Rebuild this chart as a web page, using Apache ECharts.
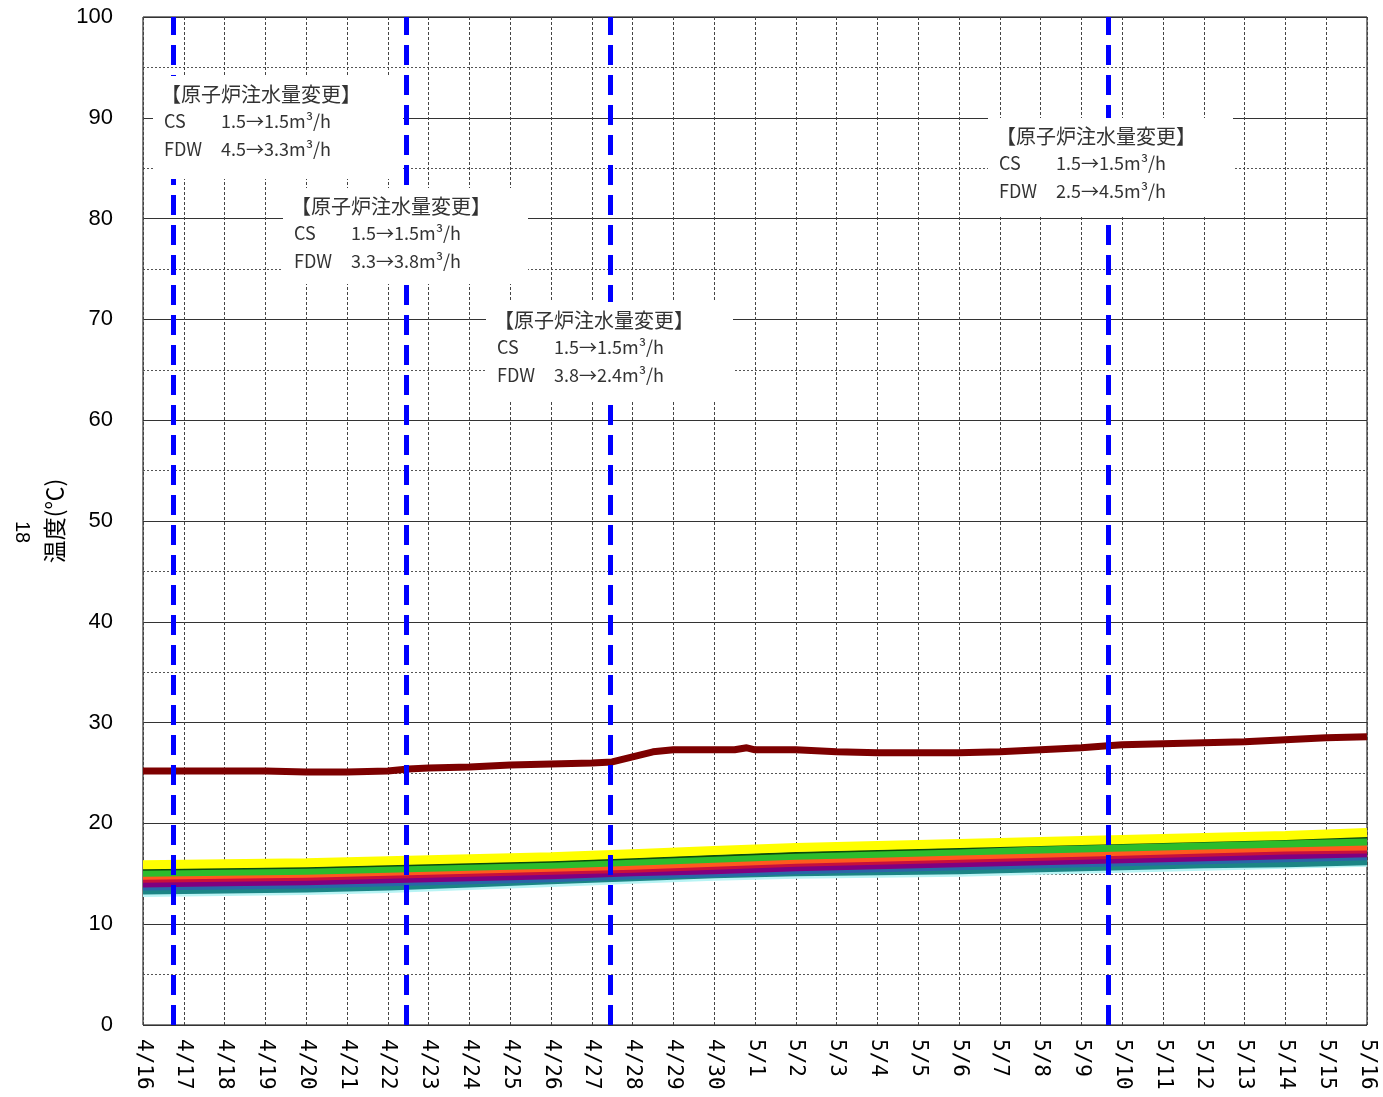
<!DOCTYPE html>
<html>
<head>
<meta charset="utf-8">
<script src="https://cdn.jsdelivr.net/npm/echarts@6/dist/echarts.min.js"></script>
<style>html,body{margin:0;padding:0;background:#fff}#chart{width:1383px;height:1097px}</style>
</head>
<body>
<div id="chart"></div>
<script>
// x tick labels (day 0 = 4/16 ... day 30 = 5/16)
const xTickLabels = ['4/16','4/17','4/18','4/19','4/20','4/21','4/22','4/23','4/24','4/25','4/26','4/27','4/28','4/29','4/30','5/1','5/2','5/3','5/4','5/5','5/6','5/7','5/8','5/9','5/10','5/11','5/12','5/13','5/14','5/15','5/16'];
const yTickValues = [0,10,20,30,40,50,60,70,80,90,100];

// Upper (dark red) series
const upperDays = [0,1,2,3,4,5,6,6.5,7,8,9,10,11,11.5,12,12.5,13,14,14.5,14.8,15,16,17,18,19,20,21,22,23,23.65,24,25,26,27,28,29,30];
const upperTemp = [25.2,25.2,25.2,25.2,25.1,25.1,25.2,25.4,25.5,25.6,25.8,25.9,26.0,26.1,26.6,27.1,27.3,27.3,27.3,27.5,27.3,27.3,27.1,27.0,27.0,27.0,27.1,27.3,27.5,27.7,27.8,27.9,28.0,28.1,28.3,28.5,28.6];

// Lower band series, sampled every 2 days
const lowerDays = [0,2,4,6,8,10,12,14,16,18,20,22,24,26,28,30];
const yellowTemp = [15.9,16.0,16.1,16.3,16.5,16.7,17.0,17.3,17.6,17.8,18.0,18.2,18.4,18.6,18.8,19.1];
const darkGreenTemp = [15.4,15.5,15.6,15.8,16.0,16.2,16.5,16.8,17.1,17.3,17.5,17.8,18.0,18.2,18.4,18.6];
const greenTemp = [15.1,15.2,15.3,15.5,15.7,15.9,16.2,16.5,16.8,17.0,17.2,17.4,17.6,17.8,18.0,18.2];
const orangeTemp = [14.7,14.8,14.9,15.1,15.3,15.5,15.7,16.0,16.3,16.5,16.7,16.9,17.1,17.3,17.5,17.6];
const crimsonTemp = [14.4,14.5,14.6,14.8,15.0,15.2,15.4,15.7,16.0,16.2,16.4,16.6,16.8,17.0,17.2,17.3];
const purpleTemp = [14.0,14.1,14.2,14.4,14.6,14.8,15.1,15.3,15.6,15.8,16.0,16.2,16.4,16.6,16.8,17.0];
const blueTemp = [13.7,13.8,13.9,14.1,14.3,14.5,14.8,15.0,15.3,15.5,15.7,15.9,16.1,16.3,16.5,16.7];
const tealTemp = [13.3,13.4,13.5,13.7,14.0,14.3,14.6,14.9,15.1,15.2,15.3,15.5,15.7,15.9,16.0,16.2];
const cyanTemp = [13.0,13.1,13.2,13.4,13.7,14.0,14.3,14.6,14.8,14.9,15.0,15.2,15.4,15.6,15.8,16.0];

// Injection change events (day offsets from 4/16 00:00)
const eventDays = [0.74, 6.45, 11.45, 23.65];

// Annotation texts
const noteTitle = '【原子炉注水量変更】';
const notes = [
  {cs: '1.5→1.5m³/h', fdw: '4.5→3.3m³/h'},
  {cs: '1.5→1.5m³/h', fdw: '3.3→3.8m³/h'},
  {cs: '1.5→1.5m³/h', fdw: '3.8→2.4m³/h'},
  {cs: '1.5→1.5m³/h', fdw: '2.5→4.5m³/h'}
];
const noteBoxes = [
  {x: 153, y: 76, w: 250, h: 103},
  {x: 283, y: 188, w: 245, h: 96},
  {x: 486, y: 302, w: 247, h: 98},
  {x: 988, y: 118, w: 245, h: 99}
];

function pairs(xs, ys){ return xs.map((x,i)=>[x, ys[i]]); }

const chart = echarts.init(document.getElementById('chart'));
const lowerSeries = [
  ['cyan', cyanTemp, '#b8f4f4', 6],
  ['teal', tealTemp, '#1b8585', 7],
  ['blue', blueTemp, '#2a66a8', 7],
  ['purple', purpleTemp, '#800080', 7],
  ['crimson', crimsonTemp, '#c8103c', 6],
  ['orange', orangeTemp, '#ff5a1e', 6],
  ['green', greenTemp, '#2cbc2c', 8],
  ['darkgreen', darkGreenTemp, '#0c4a0c', 2],
  ['yellow', yellowTemp, '#ffff00', 9]
].map(([n, arr, c, w]) => ({
  name: n, type: 'line', data: pairs(lowerDays, arr), showSymbol: false,
  lineStyle: {color: c, width: w}, itemStyle: {color: c}, z: 3, silent: true
}));

const noteFont = '18px "Noto Sans CJK JP"';
const graphics = [];
noteBoxes.forEach((b, i) => {
  graphics.push({type: 'rect', shape: {x: b.x, y: b.y, width: b.w, height: b.h}, style: {fill: '#fff'}, z: 100});
  const tx = b.x + 11;
  graphics.push({type: 'text', x: tx - 3, y: b.y + 8, style: {text: noteTitle, font: '20px "Noto Sans CJK JP"', fill: '#333'}, z: 101});
  graphics.push({type: 'text', x: tx, y: b.y + 36, style: {text: 'CS', font: noteFont, fill: '#333'}, z: 101});
  graphics.push({type: 'text', x: tx + 57, y: b.y + 36, style: {text: notes[i].cs, font: noteFont, fill: '#333'}, z: 101});
  graphics.push({type: 'text', x: tx, y: b.y + 64, style: {text: 'FDW', font: noteFont, fill: '#333'}, z: 101});
  graphics.push({type: 'text', x: tx + 57, y: b.y + 64, style: {text: notes[i].fdw, font: noteFont, fill: '#333'}, z: 101});
});
graphics.push({type: 'text', x: 32, y: 521, rotation: -Math.PI/2, style: {text: '18', font: '20px "Liberation Sans"', fill: '#000'}, z: 101});

chart.setOption({
  animation: false,
  backgroundColor: '#fff',
  grid: {left: 143, right: 16, top: 17, bottom: 72, show: true, borderColor: '#000', borderWidth: 1, backgroundColor: 'transparent'},
  xAxis: {
    type: 'value', min: 0, max: 30, interval: 1,
    axisLine: {show: false}, axisTick: {show: false},
    axisLabel: {rotate: -90, margin: 14, fontSize: 21, color: '#000', fontFamily: 'DejaVu Sans Mono',
      formatter: v => xTickLabels[Math.round(v)] || ''},
    splitLine: {show: true, lineStyle: {color: '#444', type: [3, 2], width: 1}}
  },
  yAxis: {
    type: 'value', min: 0, max: 100, interval: 10,
    name: '温度(℃)', nameLocation: 'middle', nameGap: 76, nameRotate: 90,
    nameTextStyle: {fontSize: 23, color: '#000', fontFamily: 'Noto Sans CJK JP'},
    axisLine: {show: false}, axisTick: {show: false},
    axisLabel: {margin: 30, fontSize: 22, color: '#000', fontFamily: 'Liberation Sans',
      formatter: v => yTickValues.includes(v) ? String(v) : ''},
    splitLine: {show: true, lineStyle: {color: '#333', width: 1}},
    minorTick: {show: false, splitNumber: 2},
    minorSplitLine: {show: true, lineStyle: {color: '#555', type: [2, 2], width: 1}}
  },
  series: [
    ...lowerSeries,
    {name: 'upper', type: 'line', data: pairs(upperDays, upperTemp), showSymbol: false,
      lineStyle: {color: '#7d0000', width: 7}, itemStyle: {color: '#7d0000'}, z: 4, silent: true},
    {name: 'events', type: 'line', data: [], z: 10, silent: true,
      markLine: {symbol: 'none', silent: true, label: {show: false},
        lineStyle: {color: '#0000ff', type: [20, 10], width: 5},
        data: eventDays.map(d => ({xAxis: d}))}}
  ],
  graphic: graphics
});
</script>
</body>
</html>
